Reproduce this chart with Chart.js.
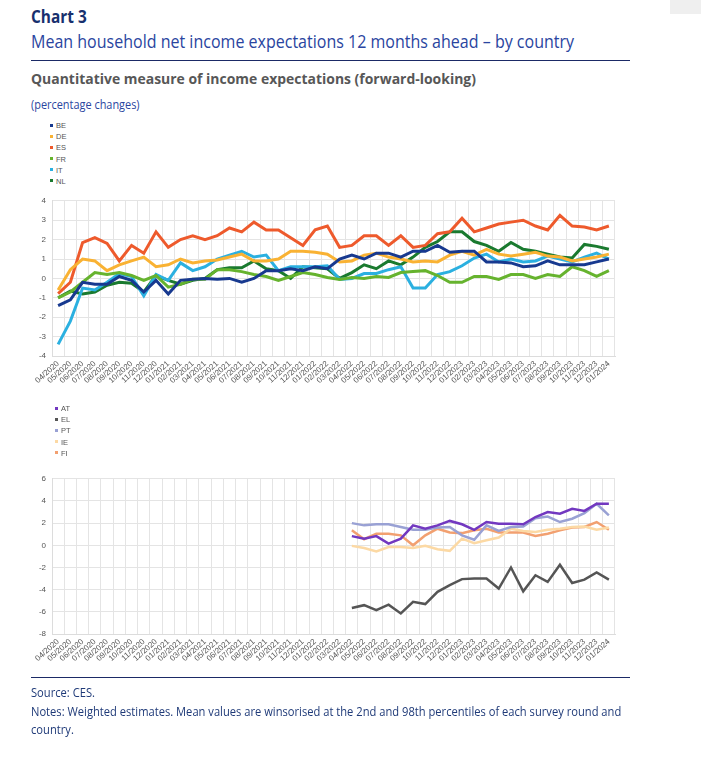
<!DOCTYPE html>
<html>
<head>
<meta charset="utf-8">
<script src="https://cdn.jsdelivr.net/npm/chart.js@4.4.1/dist/chart.umd.min.js"></script>
<style>
  body { margin: 0; background: #fff; font-family: "Open Sans", Arial, sans-serif; }
  #page { position: relative; width: 701px; height: 757px; overflow: hidden; }
  .abs { position: absolute; white-space: nowrap; }
  #corner { position: absolute; left: 670px; top: 0; width: 31px; height: 14px; background: #efefef; }
  #chartno { left: 31px; top: 4px; font-size: 17.5px; font-weight: bold; color: #17306e; transform-origin: 0 0; transform: scaleX(0.88); }
  #title { left: 31px; top: 29px; font-size: 18px; color: #2a45a0; transform-origin: 0 0; transform: scaleX(0.89); }
  .rule { position: absolute; left: 31px; width: 599px; height: 1px; background: #1b2a66; }
  #sub { left: 31px; top: 68px; font-size: 15px; font-weight: bold; color: #575757; transform-origin: 0 0; transform: scaleX(0.93); }
  #unit { left: 31px; top: 96px; font-size: 12px; color: #2a45a0; transform-origin: 0 0; transform: scaleX(0.91); }
  .legend { position: absolute; font-family: Arial, sans-serif; font-size: 7.5px; color: #555; }
  .legend div { height: 11.2px; line-height: 11.2px; }
  .legend span.mk { display: inline-block; width: 3px; height: 3px; margin-right: 3px; vertical-align: middle; position: relative; top: -1px; }
  .box { position: absolute; }
  #foot { left: 31px; top: 684px; font-size: 12px; line-height: 18.5px; color: #1f3a78; white-space: normal; width: 700px; transform-origin: 0 0; transform: scaleX(0.93); }
</style>
</head>
<body>
<div id="page">
  <div id="corner"></div>
  <div class="abs" id="chartno">Chart 3</div>
  <div class="abs" id="title">Mean household net income expectations 12 months ahead – by country</div>
  <div class="rule" style="top:60px"></div>
  <div class="abs" id="sub">Quantitative measure of income expectations (forward-looking)</div>
  <div class="abs" id="unit">(percentage changes)</div>

  <div class="legend" id="leg1" style="left:50px; top:120px"></div>
  <div class="box" style="left:20px; top:190px; width:610px; height:215px"><canvas id="c1"></canvas></div>

  <div class="legend" id="leg2" style="left:55px; top:403px"></div>
  <div class="box" style="left:20px; top:468px; width:610px; height:210px"><canvas id="c2"></canvas></div>

  <div class="rule" style="top:677px"></div>
  <div class="abs" id="foot">Source: CES.<br>Notes: Weighted estimates. Mean values are winsorised at the 2nd and 98th percentiles of each survey round and<br>country.</div>
</div>
<script>
var months = ['04/2020','05/2020','06/2020','07/2020','08/2020','09/2020','10/2020','11/2020','12/2020',
  '01/2021','02/2021','03/2021','04/2021','05/2021','06/2021','07/2021','08/2021','09/2021','10/2021','11/2021','12/2021',
  '01/2022','02/2022','03/2022','04/2022','05/2022','06/2022','07/2022','08/2022','09/2022','10/2022','11/2022','12/2022',
  '01/2023','02/2023','03/2023','04/2023','05/2023','06/2023','07/2023','08/2023','09/2023','10/2023','11/2023','12/2023',
  '01/2024'];

// top panel
var be = [-1.4, -1.1, -0.2, -0.3, -0.3, 0.1, -0.1, -0.7, -0.1, -0.8, -0.1, -0.05, 0, -0.05, 0, -0.2, 0, 0.4, 0.4, 0.5, 0.4, 0.6, 0.5, 1.0, 1.2, 1.0, 1.3, 1.3, 1.1, 1.4, 1.4, 1.7, 1.35, 1.4, 1.4, 0.85, 0.85, 0.8, 0.6, 0.65, 0.9, 0.7, 0.7, 0.7, 0.85, 1.0];
var de = [-0.6, 0.45, 1.0, 0.9, 0.4, 0.7, 0.9, 1.1, 0.6, 0.7, 1.0, 0.8, 0.9, 0.95, 1.1, 1.25, 0.9, 0.9, 1.0, 1.4, 1.4, 1.35, 1.25, 0.85, 0.9, 1.2, 1.3, 1.1, 1.0, 0.85, 0.9, 0.85, 1.2, 1.4, 1.2, 1.5, 1.25, 1.15, 1.25, 1.35, 1.15, 1.1, 0.9, 1.0, 1.1, 1.25];
var es = [-0.78, -0.2, 1.85, 2.1, 1.8, 0.9, 1.7, 1.3, 2.4, 1.6, 2.0, 2.2, 2.0, 2.2, 2.6, 2.4, 2.9, 2.5, 2.5, 2.1, 1.7, 2.5, 2.7, 1.6, 1.7, 2.2, 2.2, 1.7, 2.2, 1.6, 1.7, 2.3, 2.4, 3.1, 2.4, 2.6, 2.8, 2.9, 3.0, 2.7, 2.5, 3.25, 2.7, 2.65, 2.5, 2.7];
var fr = [-1.0, -0.7, -0.2, 0.3, 0.2, 0.3, 0.15, -0.1, 0.15, -0.45, -0.3, -0.05, -0.05, 0.45, 0.45, 0.35, 0.2, 0.1, -0.1, 0.1, 0.3, 0.2, 0.05, -0.05, 0.05, 0, 0.1, 0.05, 0.3, 0.35, 0.4, 0.15, -0.2, -0.2, 0.1, 0.1, -0.05, 0.2, 0.2, 0, 0.2, 0.1, 0.6, 0.4, 0.1, 0.4];
var it = [-3.4, -2.2, -0.5, -0.6, -0.2, 0.25, 0.1, -0.9, 0.2, -0.1, 0.8, 0.4, 0.6, 1.0, 1.2, 1.4, 1.1, 1.2, 0.4, 0.6, 0.6, 0.6, 0.65, -0.05, 0, 0.25, 0.25, 0.45, 0.6, -0.5, -0.5, 0.2, 0.35, 0.65, 1.05, 1.25, 0.85, 1.0, 0.85, 0.9, 1.15, 1.0, 0.85, 1.1, 1.3, 1.0];
var nl = [-1.0, -0.65, -0.8, -0.7, -0.35, -0.2, -0.25, -0.7, 0.15, -0.1, -0.3, -0.1, 0, 0.45, 0.55, 0.55, 0.9, 0.5, 0.4, 0, 0.6, 0.55, 0.5, 0, 0.3, 0.7, 0.5, 0.9, 0.7, 1.1, 1.6, 1.9, 2.4, 2.4, 1.9, 1.7, 1.4, 1.85, 1.5, 1.4, 1.25, 1.1, 1.05, 1.75, 1.65, 1.5];

// bottom panel (no data before 04/2022)
var at = [null, null, null, null, null, null, null, null, null, null, null, null, null, null, null, null, null, null, null, null, null, null, null, null,
  0.83, 0.6, 0.83, 0.15, 0.6, 1.8, 1.5, 1.8, 2.2, 1.9, 1.4, 2.1, 1.95, 1.95, 1.9, 2.55, 3.0, 2.85, 3.3, 3.1, 3.75, 3.75];
var el = [null, null, null, null, null, null, null, null, null, null, null, null, null, null, null, null, null, null, null, null, null, null, null, null,
  -5.65, -5.4, -5.85, -5.35, -6.15, -5.1, -5.3, -4.2, -3.6, -3.05, -3.0, -3.0, -3.9, -2.0, -4.15, -2.7, -3.3, -1.75, -3.4, -3.1, -2.45, -3.1];
var pt = [null, null, null, null, null, null, null, null, null, null, null, null, null, null, null, null, null, null, null, null, null, null, null, null,
  2.0, 1.8, 1.9, 1.9, 1.65, 1.4, 1.4, 1.6, 1.65, 0.9, 0.5, 1.8, 1.3, 1.65, 1.7, 2.45, 2.6, 2.1, 2.4, 2.9, 3.75, 2.7];
var ie = [null, null, null, null, null, null, null, null, null, null, null, null, null, null, null, null, null, null, null, null, null, null, null, null,
  -0.05, -0.25, -0.55, -0.15, -0.15, -0.25, -0.05, -0.35, -0.5, 0.6, 0.2, 0.45, 0.7, 1.5, 1.3, 1.2, 1.4, 1.5, 1.65, 1.7, 1.4, 1.6];
var fi = [null, null, null, null, null, null, null, null, null, null, null, null, null, null, null, null, null, null, null, null, null, null, null, null,
  1.35, 0.55, 1.05, 1.05, 0.9, 0, 0.9, 1.5, 1.15, 1.1, 1.35, 1.5, 1.15, 1.15, 1.15, 0.85, 1.05, 1.35, 1.6, 1.65, 2.1, 1.4];

function line(label, data, color, w) {
  return { label: label, data: data, borderColor: color, backgroundColor: color,
           borderWidth: w, pointRadius: 0, tension: 0, fill: false, spanGaps: false };
}

function opts(min, max, step, xh) {
  return {
    responsive: true,
    maintainAspectRatio: false,
    animation: false,
    layout: { padding: { top: 9, right: 15, left: 0, bottom: 0 } },
    plugins: { legend: { display: false }, tooltip: { enabled: false } },
    scales: {
      x: {
        offset: true,
        grid: { offset: true, color: '#e4e4e4', drawTicks: false },
        border: { color: '#dcdcdc' },
        ticks: { autoSkip: false, minRotation: 42, maxRotation: 42, padding: 3,
                 color: '#555', font: { family: 'Arial', size: 8 } },
        afterFit: function (s) { s.height = xh; }
      },
      y: {
        min: min, max: max,
        grid: { color: '#e4e4e4', drawTicks: false },
        border: { color: '#dcdcdc' },
        ticks: { stepSize: step, padding: 6, color: '#555', font: { family: 'Arial', size: 8 } },
        afterFit: function (s) { s.width = 32; }
      }
    }
  };
}

function htmlLegend(id, chart) {
  var box = document.getElementById(id);
  chart.data.datasets.forEach(function (ds) {
    var row = document.createElement('div');
    row.innerHTML = '<span class="mk" style="background:' + ds.borderColor + '"></span>' + ds.label;
    box.appendChild(row);
  });
}

var chart1 = new Chart(document.getElementById('c1').getContext('2d'), {
  type: 'line',
  data: {
    labels: months,
    datasets: [
      line('BE', be, '#17398f', 3),
      line('DE', de, '#f9b233', 3),
      line('ES', es, '#ee5a2c', 3),
      line('FR', fr, '#66b32e', 3),
      line('IT', it, '#2bb0e0', 3),
      line('NL', nl, '#1a7a2f', 3)
    ]
  },
  options: opts(-4, 4, 1, 49)
});
htmlLegend('leg1', chart1);

var chart2 = new Chart(document.getElementById('c2').getContext('2d'), {
  type: 'line',
  data: {
    labels: months,
    datasets: [
      line('AT', at, '#7238c0', 2.5),
      line('EL', el, '#555555', 2.5),
      line('PT', pt, '#99a1d4', 2.5),
      line('IE', ie, '#fcd9a4', 2.5),
      line('FI', fi, '#f2a070', 2.5)
    ]
  },
  options: opts(-8, 6, 2, 44)
});
htmlLegend('leg2', chart2);
</script>
</body>
</html>
